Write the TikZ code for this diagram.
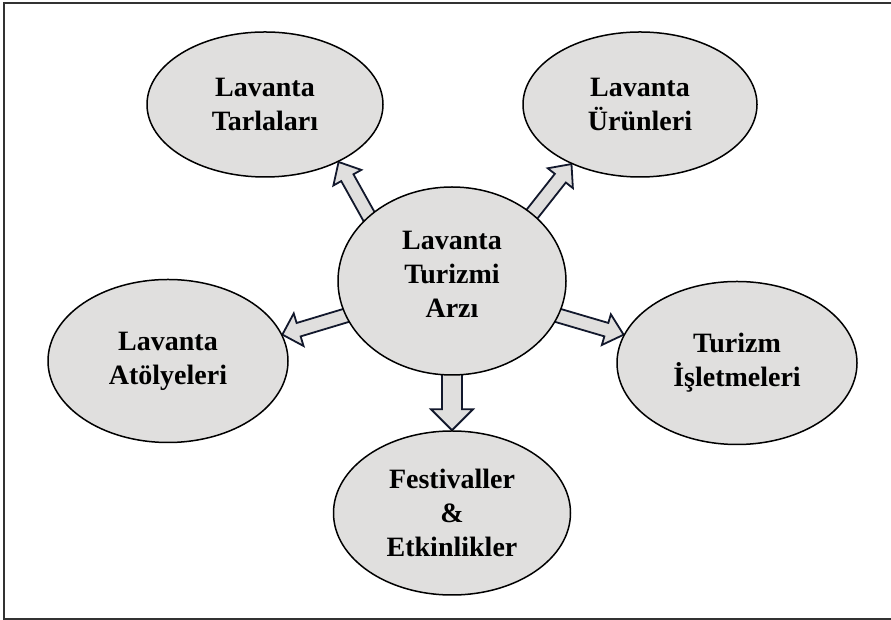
\documentclass[tikz,border=0pt]{standalone}
\usepackage{fontspec}
\setmainfont{Liberation Serif}
\usetikzlibrary{shapes.geometric,calc,backgrounds}
\definecolor{ellfill}{RGB}{224,223,222}
\definecolor{arrline}{RGB}{18,24,44}
\definecolor{framecol}{RGB}{50,50,50}
\newcommand{\blockarrow}[5]{% #1 start, #2 tip, #3 shaft half, #4 head half, #5 head length
  \coordinate (ba-s) at ($(#1)!-5pt!(#2)$);
  \coordinate (ba-n) at ($(#2)!#5!(#1)$);
  \draw[blockarr] ($(ba-s)!#3!90:(#2)$) -- ($(ba-n)!#3!-90:(ba-s)$) -- ($(ba-n)!#4!-90:(ba-s)$) -- (#2) -- ($(ba-n)!#4!90:(ba-s)$) -- ($(ba-n)!#3!90:(ba-s)$) -- ($(ba-s)!#3!-90:(#2)$) -- cycle;
}
\tikzset{
  ell/.style={ellipse, draw=black, line width=1.5pt, fill=ellfill, inner sep=0pt, align=center,
    font=\bfseries\fontsize{28}{34}\selectfont},
  blockarr/.style={draw=arrline, line width=1.8pt, fill=ellfill, line join=miter},
}
\begin{document}
\begin{tikzpicture}[x=1pt,y=1pt]
\useasboundingbox (0,0) rectangle (891,620);
\draw[framecol, line width=2pt] (893,617) -- (4,617) -- (4,1) -- (893,1);

\node[ell, minimum width=228pt, minimum height=188pt] (c) at (452,339) {Lavanta\\Turizmi\\Arzı\\[-21pt]};
\node[ell, minimum width=236pt, minimum height=145pt] (tl) at (265,515.5) {Lavanta\\Tarlaları};
\node[ell, minimum width=234pt, minimum height=145pt] (tr) at (640,515.5) {Lavanta\\Ürünleri};
\node[ell, minimum width=240pt, minimum height=163pt] (l) at (168,259) {Lavanta\\Atölyeleri};
\node[ell, minimum width=240pt, minimum height=163pt] (r) at (737,257) {Turizm\\İşletmeleri};
\node[ell, minimum width=237pt, minimum height=164pt] (b) at (452,107) {Festivaller\\\&\\Etkinlikler};

\begin{scope}[on background layer]
  \blockarrow{c.142}{tl.-38}{7pt}{16pt}{18pt}
  \blockarrow{c.40}{tr.221}{7pt}{16pt}{18pt}
  \blockarrow{c.198}{l.13}{7pt}{17pt}{17pt}
  \blockarrow{c.-18}{r.166}{7pt}{16pt}{18pt}
  \blockarrow{c.-90}{b.90}{10pt}{21pt}{21pt}
\end{scope}
\end{tikzpicture}
\end{document}
